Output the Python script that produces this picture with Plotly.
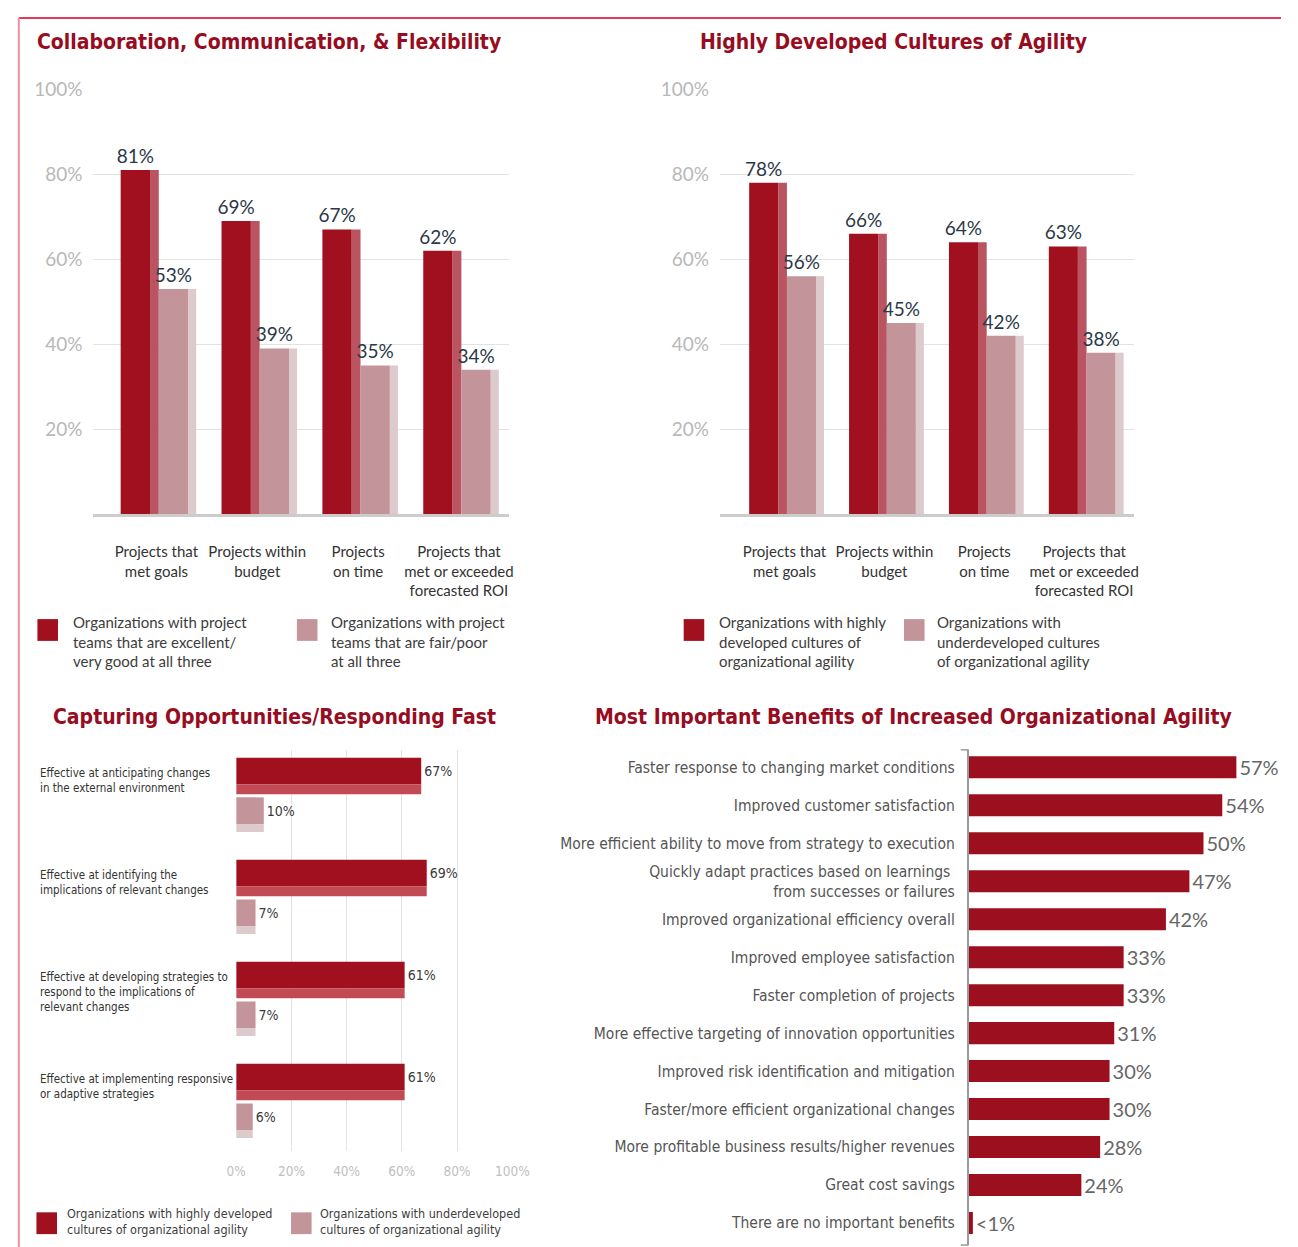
import plotly.graph_objects as go

W, H = 1298, 1247

# ---------------- data ----------------
project_categories = [
    "Projects that<br>met goals",
    "Projects within<br>budget",
    "Projects<br>on time",
    "Projects that<br>met or exceeded<br>forecasted ROI",
]
collab_strong = [81, 69, 67, 62]   # teams excellent/very good at all three
collab_weak = [53, 39, 35, 34]     # teams fair/poor at all three
culture_high = [78, 66, 64, 63]    # highly developed cultures of agility
culture_under = [56, 45, 42, 38]   # underdeveloped cultures of agility

capture_categories = [
    "Effective at anticipating changes<br>in the external environment",
    "Effective at identifying the<br>implications of relevant changes",
    "Effective at developing strategies to<br>respond to the implications of<br>relevant changes",
    "Effective at implementing responsive<br>or adaptive strategies",
]
capture_high = [67, 69, 61, 61]
capture_under = [10, 7, 7, 6]

benefit_categories = [
    "Faster response to changing market conditions",
    "Improved customer satisfaction",
    "More efficient ability to move from strategy to execution",
    "Quickly adapt practices based on learnings <br>from successes or failures",
    "Improved organizational efficiency overall",
    "Improved employee satisfaction",
    "Faster completion of projects",
    "More effective targeting of innovation opportunities",
    "Improved risk identification and mitigation",
    "Faster/more efficient organizational changes",
    "More profitable business results/higher revenues",
    "Great cost savings",
    "There are no important benefits",
]
benefit_values = [57, 54, 50, 47, 42, 33, 33, 31, 30, 30, 28, 24, 0.9]
benefit_labels = ["57%", "54%", "50%", "47%", "42%", "33%", "33%", "31%",
                  "30%", "30%", "28%", "24%", "<1%"]

vertical_ticks = [20, 40, 60, 80, 100]
vertical_tick_labels = ["20%", "40%", "60%", "80%", "100%"]
horizontal_ticks = [0, 20, 40, 60, 80, 100]
horizontal_tick_labels = ["0%", "20%", "40%", "60%", "80%", "100%"]

# ---------------- styling ----------------
DARK = "#a0101f"
DARK_SIDE = "#b95460"
LIGHT = "#c3959b"
LIGHT_SIDE = "#ddcacc"
TITLE_RED = "#980c22"
NARROW = "Liberation Sans Narrow, Arial Narrow, DejaVu Sans Condensed, sans-serif"
BODY = "Lato, Open Sans, sans-serif"


def px_x(x):
    return x / W


def px_y(y):
    return 1 - y / H


fig = go.Figure()

# ---------------- top charts: grouped 3D-style columns ----------------
def add_columns(values_a, values_b, xa, ya):
    pos = list(range(len(values_a)))
    specs = [
        (values_a, DARK, DARK_SIDE, -0.354, 0.291, -0.063, 0.087),
        (values_b, LIGHT, LIGHT_SIDE, 0.024, 0.291, 0.315, 0.080),
    ]
    for vals, face, side, off, wid, soff, swid in specs:
        fig.add_trace(go.Bar(
            x=pos, y=vals, xaxis=xa, yaxis=ya,
            offset=off, width=wid, marker=dict(color=face, line=dict(width=0)),
            text=[f"{v}%" for v in vals], textposition="outside",
            constraintext="none", cliponaxis=False,
            textfont=dict(family=BODY, size=19, color="#2b3846"),
            showlegend=False, hoverinfo="skip",
        ))
        # shaded side face of each column
        fig.add_trace(go.Bar(
            x=pos, y=vals, xaxis=xa, yaxis=ya,
            offset=soff, width=swid, marker=dict(color=side, line=dict(width=0)),
            showlegend=False, hoverinfo="skip",
        ))


add_columns(collab_strong, collab_weak, "x", "y")
add_columns(culture_high, culture_under, "x2", "y2")

# ---------------- bottom-left: paired horizontal bars ----------------
cap_pos = list(range(len(capture_high)))
for vals, face, side, off, wid, soff, swid in [
    (capture_high, DARK, "#c14a55", -0.359, 0.262, -0.097, 0.095),
    (capture_under, LIGHT, LIGHT_SIDE, 0.029, 0.262, 0.291, 0.078),
]:
    fig.add_trace(go.Bar(
        y=cap_pos, x=vals, orientation="h", xaxis="x3", yaxis="y3",
        offset=off, width=wid, marker=dict(color=face, line=dict(width=0)),
        text=[f"{v}%" for v in vals], textposition="outside",
        constraintext="none", cliponaxis=False,
        textfont=dict(family=NARROW, size=14, color="#3a3a3a"),
        showlegend=False, hoverinfo="skip",
    ))
    # shaded lower face of each bar
    fig.add_trace(go.Bar(
        y=cap_pos, x=vals, orientation="h", xaxis="x3", yaxis="y3",
        offset=soff, width=swid, marker=dict(color=side, line=dict(width=0)),
        showlegend=False, hoverinfo="skip",
    ))

# ---------------- bottom-right: ranked benefits ----------------
fig.add_trace(go.Bar(
    y=list(range(len(benefit_values))), x=benefit_values, orientation="h",
    xaxis="x4", yaxis="y4", width=0.58,
    marker=dict(color="#9c0f1f", line=dict(width=0)),
    text=benefit_labels, textposition="outside", constraintext="none",
    cliponaxis=False, textfont=dict(family=BODY, size=20, color="#666666"),
    showlegend=False, hoverinfo="skip",
))

# ---------------- axes ----------------
grid = "#e2e2e2"
tick_font_top = dict(family=BODY, size=19, color="#b8b8b8")
cat_font_top = dict(family=BODY, size=15, color="#333333")

common_x_top = dict(
    tickmode="array", tickvals=list(range(4)), ticktext=project_categories,
    showgrid=False, zeroline=False, showline=True, linecolor="#cccccc",
    linewidth=3, ticks="outside", ticklen=22, tickcolor="rgba(0,0,0,0)",
    tickfont=cat_font_top, fixedrange=True,
)
common_y_top = dict(
    range=[0, 100], tickmode="array", tickvals=vertical_ticks,
    ticktext=vertical_tick_labels, showgrid=True, gridcolor=grid,
    gridwidth=1, zeroline=False, showline=False, tickfont=tick_font_top,
    ticks="outside", ticklen=6, tickcolor="rgba(0,0,0,0)", fixedrange=True,
)

fig.update_layout(
    xaxis=dict(common_x_top, domain=[px_x(85), px_x(510)], range=[-0.626, 3.5], anchor="y"),
    yaxis=dict(common_y_top, domain=[px_y(507), px_y(78)], anchor="x"),
    xaxis2=dict(common_x_top, domain=[px_x(725), px_x(1148)], range=[-0.647, 3.5], anchor="y2"),
    yaxis2=dict(common_y_top, domain=[px_y(507), px_y(78)], anchor="x2"),
    xaxis3=dict(
        domain=[px_x(231), px_x(513)], range=[0, 100], anchor="y3",
        tickmode="array", tickvals=horizontal_ticks, ticktext=horizontal_tick_labels,
        showgrid=True, gridcolor="#e4e4e4", zeroline=False, showline=False,
        ticks="outside", ticklen=8, tickcolor="rgba(0,0,0,0)",
        tickfont=dict(family=NARROW, size=13.5, color="#c0c0c0"), fixedrange=True,
    ),
    yaxis3=dict(
        domain=[px_y(1150), px_y(745)], range=[3.495, -0.437], anchor="x3",
        showticklabels=False, showgrid=False, zeroline=False, fixedrange=True,
    ),
    xaxis4=dict(
        domain=[px_x(979), 1.0], range=[0, 66.5], anchor="y4",
        showticklabels=False, showgrid=False, zeroline=False, fixedrange=True,
    ),
    yaxis4=dict(
        domain=[px_y(1245), px_y(745)], range=[12.58, -0.46], anchor="x4",
        tickmode="array", tickvals=list(range(len(benefit_categories))),
        ticktext=benefit_categories, showgrid=False, zeroline=False,
        showline=True, linecolor="#9a9a9a", linewidth=1.5,
        ticks="outside", ticklen=9, tickcolor="rgba(0,0,0,0)",
        tickfont=dict(family=NARROW, size=15.5, color="#555555"), fixedrange=True,
    ),
    barmode="overlay",
    width=W, height=H,
    margin=dict(l=0, r=0, t=0, b=0, pad=0),
    paper_bgcolor="white", plot_bgcolor="white",
    showlegend=False,
)

# ---------------- titles ----------------
titles = [
    ("Collaboration, Communication, & Flexibility", 265, 30),
    ("Highly Developed Cultures of Agility", 902, 30),
    ("Capturing Opportunities/Responding Fast", 270, 712),
    ("Most Important Benefits of Increased Organizational Agility", 923, 712),
]
for text, cx, cy in titles:
    fig.add_annotation(
        text=f"<b>{text}</b>", xref="paper", yref="paper",
        x=px_x(cx), y=px_y(cy), xanchor="center", yanchor="middle",
        showarrow=False, font=dict(family=NARROW, size=21, color=TITLE_RED),
    )

# ---------------- category labels, bottom-left ----------------
for i, label in enumerate(capture_categories):
    fig.add_annotation(
        text=label, xref="paper", yref="y3", x=px_x(29), y=i - 0.30,
        xanchor="left", yanchor="top", align="left", showarrow=False,
        font=dict(family=NARROW, size=11.5, color="#333333"),
    )

# ---------------- keys ----------------
keys = [
    (28, 613, DARK, 62, "Organizations with project<br>teams that are excellent/<br>very good at all three", BODY, 15),
    (293, 613, LIGHT, 326, "Organizations with project<br>teams that are fair/poor<br>at all three", BODY, 15),
    (688, 613, DARK, 722, "Organizations with highly<br>developed cultures of<br>organizational agility", BODY, 15),
    (913, 613, LIGHT, 945, "Organizations with<br>underdeveloped cultures<br>of organizational agility", BODY, 15),
    (27, 1212, DARK, 56, "Organizations with highly developed<br>cultures of organizational agility", NARROW, 12.5),
    (287, 1212, LIGHT, 315, "Organizations with underdeveloped<br>cultures of organizational agility", NARROW, 12.5),
]
shapes = []
for sx, sy, color, tx, text, fam, size in keys:
    shapes.append(dict(
        type="rect", xref="paper", yref="paper",
        x0=px_x(sx), x1=px_x(sx + 21), y0=px_y(sy), y1=px_y(sy + 22),
        fillcolor=color, line=dict(width=0),
    ))
    fig.add_annotation(
        text=text, xref="paper", yref="paper", x=px_x(tx), y=px_y(sy - 8),
        xanchor="left", yanchor="top", align="left", showarrow=False,
        font=dict(family=fam, size=size, color="#3d3d3d"),
    )

# page frame and small end caps on the benefits axis
shapes += [
    dict(type="line", xref="paper", yref="paper", x0=px_x(9), x1=1.0,
         y0=px_y(6), y1=px_y(6), line=dict(color="#e6385a", width=2)),
    dict(type="line", xref="paper", yref="paper", x0=px_x(9), x1=px_x(9),
         y0=px_y(6), y1=0, line=dict(color="#ec8fa2", width=2)),
    dict(type="line", xref="paper", yref="paper", x0=px_x(971), x1=px_x(979),
         y0=px_y(745), y1=px_y(745), line=dict(color="#9a9a9a", width=1.5)),
    dict(type="line", xref="paper", yref="paper", x0=px_x(971), x1=px_x(979),
         y0=px_y(1245), y1=px_y(1245), line=dict(color="#9a9a9a", width=1.5)),
]
fig.update_layout(shapes=shapes)

fig.write_html("out.html", config={"displayModeBar": False})
